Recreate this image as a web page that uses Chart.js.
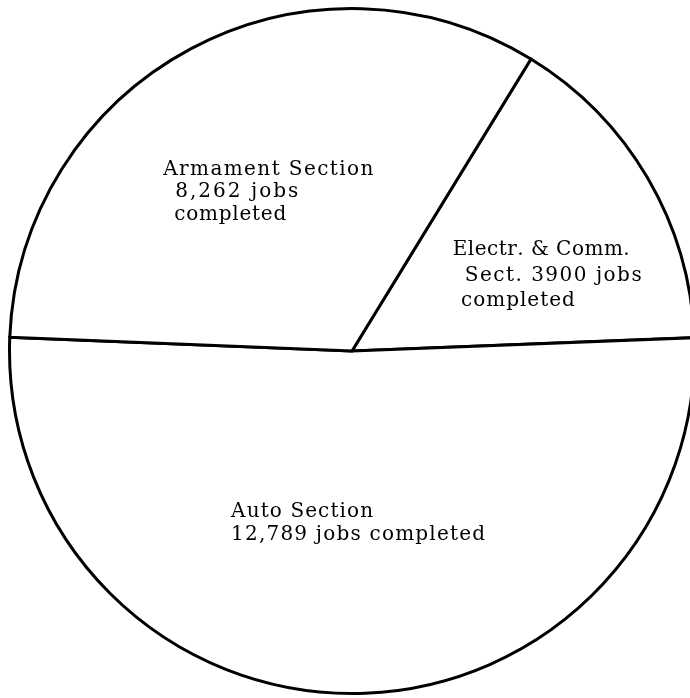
<!DOCTYPE html>
<html>
<head>
<meta charset="utf-8">
<script src="https://cdn.jsdelivr.net/npm/chart.js@4.4.1/dist/chart.umd.min.js"></script>
<style>
  html, body { margin: 0; padding: 0; background: #ffffff; overflow: hidden; }
  #wrap { position: absolute; left: 0; top: 0; width: 704px; height: 698px; }
</style>
</head>
<body>
<div id="wrap"><canvas id="c" width="704" height="698"></canvas></div>
<script>
// ---- data ----
const categories = ["Electr. & Comm. Section", "Auto Section", "Armament Section"];
const jobsCompleted = [3900, 12789, 8262];
const electrLabel = ["Electr. & Comm.", "Sect. 3900 jobs", "completed"];
const autoLabel = ["Auto Section", "12,789 jobs completed"];
const armamentLabel = ["Armament Section", "8,262 jobs", "completed"];

// ---- label layout (fractions of radius from pie centre; target text widths in px) ----
const labelLayout = [
  { lines: electrLabel, pos: [[0.294, -0.280], [0.329, -0.204], [0.318, -0.131]], widths: [177, 177, 114] },
  { lines: autoLabel, pos: [[-0.353, 0.484], [-0.353, 0.551]], widths: [142, 254] },
  { lines: armamentLabel, pos: [[-0.551, -0.513], [-0.516, -0.449], [-0.519, -0.382]], widths: [210, 123, 112] }
];

const FONT = '20px "DejaVu Serif", "Liberation Serif", serif';

function drawSpaced(ctx, text, x, y, target) {
  const chars = Array.from(text);
  const ws = chars.map(ch => ctx.measureText(ch).width);
  const total = ws.reduce((a, b) => a + b, 0);
  const extra = chars.length > 1 ? (target - total) / (chars.length - 1) : 0;
  let cx = x;
  chars.forEach((ch, i) => {
    ctx.fillText(ch, cx, y);
    cx += ws[i] + extra;
  });
}

const labelPlugin = {
  id: 'sliceLabels',
  afterDraw(chart) {
    const meta = chart.getDatasetMeta(0);
    const arc = meta.data[0];
    const cx = arc.x, cy = arc.y, r = arc.outerRadius;
    const ctx = chart.ctx;
    ctx.save();
    ctx.font = FONT;
    ctx.fillStyle = '#000000';
    ctx.textAlign = 'left';
    ctx.textBaseline = 'alphabetic';
    labelLayout.forEach(lb => {
      lb.lines.forEach((t, i) => {
        const x = cx + lb.pos[i][0] * r;
        const y = cy + lb.pos[i][1] * r;
        drawSpaced(ctx, t, x, y, lb.widths[i]);
      });
    });
    ctx.restore();
  }
};

new Chart(document.getElementById('c'), {
  type: 'pie',
  data: {
    labels: categories,
    datasets: [{
      data: jobsCompleted,
      backgroundColor: '#ffffff',
      borderColor: '#000000',
      borderWidth: 3,
      borderJoinStyle: 'miter'
    }]
  },
  options: {
    responsive: false,
    animation: false,
    events: [],
    rotation: 31.5,
    layout: { padding: { left: 8, right: 8, top: 7, bottom: 3 } },
    plugins: {
      legend: { display: false },
      tooltip: { enabled: false },
      title: { display: false }
    }
  },
  plugins: [labelPlugin]
});
</script>
</body>
</html>
